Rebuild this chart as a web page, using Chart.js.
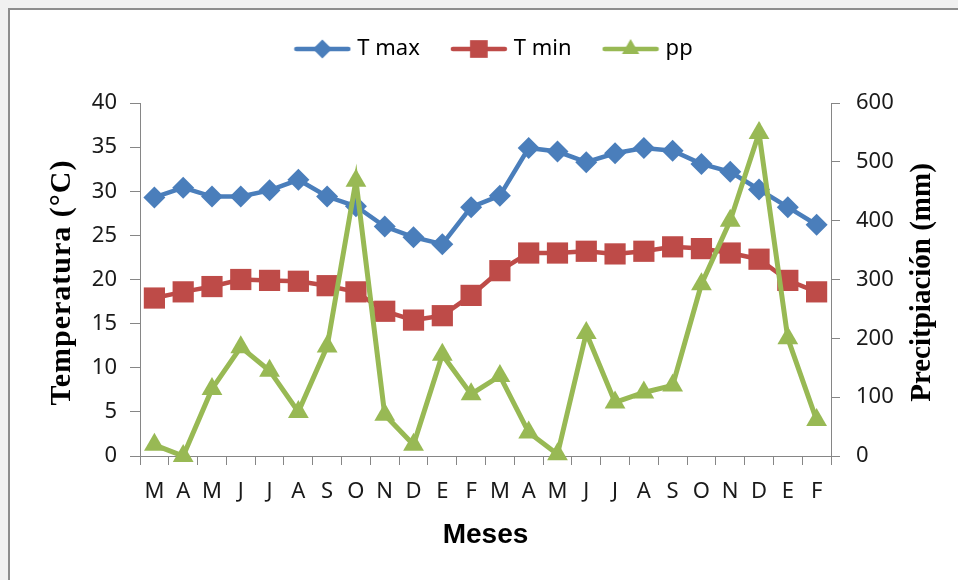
<!DOCTYPE html>
<html>
<head>
<meta charset="utf-8">
<script src="https://cdn.jsdelivr.net/npm/chart.js@4"></script>
<style>
  html, body { margin: 0; padding: 0; background: #f0f0f0; }
  #frame {
    position: absolute; left: 8px; top: 8px; width: 1100px; height: 800px;
    background: #fff; border-left: 2px solid #8c8c8c; border-top: 2px solid #8c8c8c;
  }
  #wrap { position: absolute; left: 0; top: 0; width: 958px; height: 580px; }
</style>
</head>
<body>
<div id="frame"></div>
<div id="wrap"><canvas id="chart" width="958" height="580"></canvas></div>
<script>
const months = ['M', 'A', 'M', 'J', 'J', 'A', 'S', 'O', 'N', 'D', 'E', 'F',
                'M', 'A', 'M', 'J', 'J', 'A', 'S', 'O', 'N', 'D', 'E', 'F'];
const tMax = [29.3, 30.4, 29.4, 29.4, 30.1, 31.3, 29.4, 28.3, 26.0, 24.8, 24.0, 28.2,
              29.5, 34.9, 34.5, 33.3, 34.3, 34.9, 34.6, 33.1, 32.2, 30.2, 28.2, 26.2];
const tMin = [17.9, 18.6, 19.2, 20.0, 19.9, 19.8, 19.3, 18.6, 16.4, 15.4, 15.9, 18.2,
              21.0, 23.0, 23.0, 23.2, 22.9, 23.2, 23.7, 23.5, 23.0, 22.3, 19.9, 18.6];
const pp = [19, 0, 114, 185, 145, 75, 186, 468, 70, 19, 172, 105,
            136, 40, 3, 209, 91, 108, 120, 292, 400, 549, 200, 61];

const seriesNames = ['T max', 'T min', 'pp'];
const colors = ['#4a7ebb', '#be4b48', '#98b954'];
const xTitle = 'Meses';
const leftTitle = 'Temperatura (°C)';
const rightTitle = 'Precitpiación (mm)';

const tickFont = { family: '"Noto Sans", sans-serif', size: 22 };
const axisGrey = '#868686';

function legendIcon(color, style, radius) {
  const c = document.createElement('canvas');
  c.width = 58; c.height = 24;
  const g = c.getContext('2d');
  g.strokeStyle = color; g.lineWidth = 4.5; g.lineCap = 'round';
  g.beginPath(); g.moveTo(3, 12); g.lineTo(55, 12); g.stroke();
  g.fillStyle = color;
  Chart.helpers.drawPoint(g, { pointStyle: style, radius: radius, rotation: 0, borderWidth: 0 }, 29, 12);
  return c;
}

const icons = [
  legendIcon(colors[0], 'rectRot', 9.5),
  legendIcon(colors[1], 'rect', 12.5),
  legendIcon(colors[2], 'triangle', 10)
];

const sideTitles = {
  id: 'sideTitles',
  afterDraw(chart) {
    const { ctx, chartArea } = chart;
    const midY = (chartArea.top + chartArea.bottom) / 2;
    ctx.save();
    ctx.fillStyle = '#000';
    ctx.textAlign = 'center';
    ctx.textBaseline = 'middle';

    ctx.save();
    ctx.font = 'bold 30px "Liberation Serif", serif';
    if ('letterSpacing' in ctx) ctx.letterSpacing = '1px';
    ctx.translate(chartArea.left - 78, midY + 3);
    ctx.rotate(-Math.PI / 2);
    ctx.fillText(leftTitle, 0, 0);
    ctx.restore();

    ctx.save();
    ctx.font = 'bold 29px "Liberation Serif", serif';
    ctx.translate(chartArea.right + 92, midY + 3);
    ctx.rotate(-Math.PI / 2);
    ctx.fillText(rightTitle, 0, 0);
    ctx.restore();

    ctx.restore();
  }
};

Chart.defaults.color = '#1a1a1a';

new Chart(document.getElementById('chart').getContext('2d'), {
  type: 'line',
  data: {
    labels: months,
    datasets: [
      {
        label: seriesNames[0], data: tMax, yAxisID: 'yT', order: 2,
        borderColor: colors[0], backgroundColor: colors[0], borderWidth: 4.5,
        pointStyle: 'rectRot', pointRadius: 11, pointHoverRadius: 11, pointBorderWidth: 0,
        tension: 0, clip: false
      },
      {
        label: seriesNames[1], data: tMin, yAxisID: 'yT', order: 1,
        borderColor: colors[1], backgroundColor: colors[1], borderWidth: 4.5,
        pointStyle: 'rect', pointRadius: 15, pointHoverRadius: 15, pointBorderWidth: 0,
        tension: 0, clip: false
      },
      {
        label: seriesNames[2], data: pp, yAxisID: 'yP', order: 0,
        borderColor: colors[2], backgroundColor: colors[2], borderWidth: 5,
        pointStyle: 'triangle', pointRadius: 12, pointHoverRadius: 12, pointBorderWidth: 0,
        tension: 0, clip: false
      }
    ]
  },
  options: {
    responsive: false,
    animation: false,
    layout: { padding: { left: 33, right: 0, top: 3, bottom: 0 } },
    plugins: {
      tooltip: { enabled: false },
      title: { display: true, text: '', font: { size: 10, lineHeight: 1 }, padding: { top: 11.5, bottom: 11.5 } },
      legend: {
        position: 'top',
        weight: 3000,
        labels: {
          usePointStyle: true,
          pointStyleWidth: 48,
          padding: 35,
          font: tickFont,
          color: '#1a1a1a',
          generateLabels(chart) {
            return chart.data.datasets.map((ds, i) => ({
              text: ds.label,
              pointStyle: icons[i],
              fillStyle: ds.borderColor,
              strokeStyle: ds.borderColor,
              lineWidth: 0,
              hidden: false,
              datasetIndex: i
            }));
          }
        }
      }
    },
    scales: {
      x: {
        type: 'category',
        offset: true,
        grid: { offset: true, drawOnChartArea: false, drawTicks: true, tickLength: 9, color: axisGrey },
        border: { display: true, color: axisGrey, width: 1 },
        ticks: { font: tickFont, color: '#1a1a1a', padding: 14, maxRotation: 0, autoSkip: false },
        title: {
          display: true, text: xTitle, color: '#000',
          font: { family: '"Liberation Sans", Arial, sans-serif', size: 28, weight: 'bold' },
          padding: { top: 0, bottom: 28 }
        },
        afterFit(scale) { scale.height = 124; }
      },
      yT: {
        position: 'left',
        min: 0, max: 40,
        ticks: { stepSize: 5, font: tickFont, color: '#1a1a1a', padding: 13 },
        grid: { drawOnChartArea: false, drawTicks: true, tickLength: 10, color: axisGrey },
        border: { display: true, color: axisGrey, width: 1 },
        afterFit(scale) { scale.width = 107; }
      },
      yP: {
        position: 'right',
        min: 0, max: 600,
        ticks: { stepSize: 100, font: tickFont, color: '#1a1a1a', padding: 16 },
        grid: { drawOnChartArea: false, drawTicks: true, tickLength: 9, color: axisGrey },
        border: { display: true, color: axisGrey, width: 1 },
        afterFit(scale) { scale.width = 127; }
      }
    }
  },
  plugins: [sideTitles]
});
</script>
</body>
</html>
